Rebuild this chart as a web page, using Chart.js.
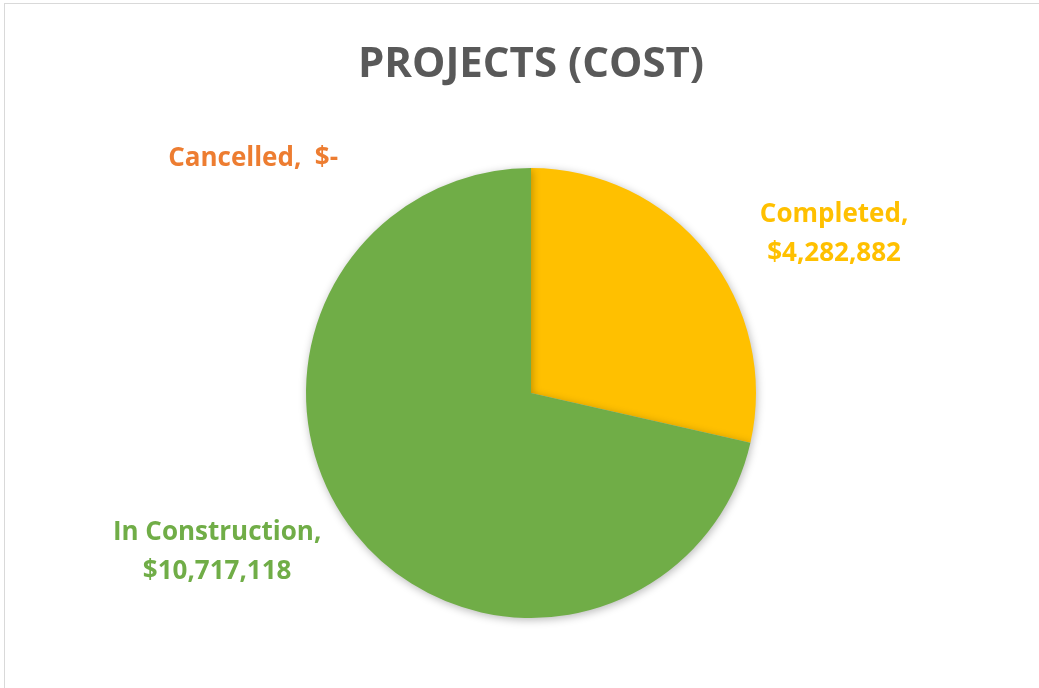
<!DOCTYPE html>
<html>
<head>
<meta charset="utf-8">
<script src="https://cdn.jsdelivr.net/npm/chart.js"></script>
<style>
  html, body { margin: 0; padding: 0; background: #fff; }
  #wrap { position: absolute; left: 4px; top: 3px; width: 1039px; height: 688px; border: 1px solid #d9d9d9; box-sizing: border-box; }
  #box { position: absolute; left: -4px; top: -3px; width: 1039px; height: 688px; }
</style>
</head>
<body>
<div id="wrap"><div id="box"><canvas id="myChart"></canvas></div></div>
<script>
// data
const labels = ['Completed', 'In Construction', 'Cancelled'];
const costs = [4282882, 10717118, 0];
const colors = ['#FFC000', '#70AD47', '#ED7D31'];

// label anchors, in units of the pie radius from its centre
const labelSpots = [[1.347, -0.71], [-1.395, 0.703], [-1.235, -1.04]];

function money(v) {
  if (!v) return '$-';
  return '$' + v.toLocaleString('en-US');
}

const pieLabels = {
  id: 'pieLabels',
  afterDatasetsDraw(chart) {
    const ctx = chart.ctx;
    const arcs = chart.getDatasetMeta(0).data;
    ctx.save();
    ctx.font = 'bold 26px "Open Sans"';
    ctx.textAlign = 'center';
    ctx.textBaseline = 'middle';
    arcs.forEach((arc, i) => {
      const r = arc.outerRadius;
      const x = arc.x + labelSpots[i][0] * r;
      const y = arc.y + labelSpots[i][1] * r;
      ctx.fillStyle = colors[i];
      if (costs[i]) {
        ctx.fillText(labels[i] + ',', x, y - 19);
        ctx.fillText(money(costs[i]), x, y + 20);
      } else {
        ctx.fillText(labels[i] + ',  ' + money(costs[i]), x, y);
      }
    });
    ctx.restore();
  }
};

const pieShadow = {
  id: 'pieShadow',
  beforeDatasetsDraw(chart) {
    const ctx = chart.ctx;
    ctx.save();
    ctx.shadowColor = 'rgba(0,0,0,0.28)';
    ctx.shadowBlur = 9;
    ctx.shadowOffsetX = 1;
    ctx.shadowOffsetY = 2;
  },
  afterDatasetsDraw(chart) {
    chart.ctx.restore();
  }
};

const canvas = document.getElementById('myChart');

const config = {
  type: 'pie',
  data: {
    labels: labels,
    datasets: [{
      data: costs,
      backgroundColor: colors,
      borderWidth: 0,
      hoverOffset: 0
    }]
  },
  options: {
    responsive: true,
    maintainAspectRatio: false,
    animation: false,
    layout: {
      padding: { left: 21, right: 0, top: 0, bottom: 71 }
    },
    plugins: {
      legend: { display: false },
      tooltip: { enabled: false },
      title: {
        display: true,
        text: 'PROJECTS (COST)',
        color: '#595959',
        font: { family: 'Open Sans', size: 42, weight: 'bold' },
        padding: { top: 39, bottom: 77.6 }
      }
    }
  },
  plugins: [pieShadow, pieLabels]
};

const myChart = new Chart(canvas, config);
</script>
</body>
</html>
